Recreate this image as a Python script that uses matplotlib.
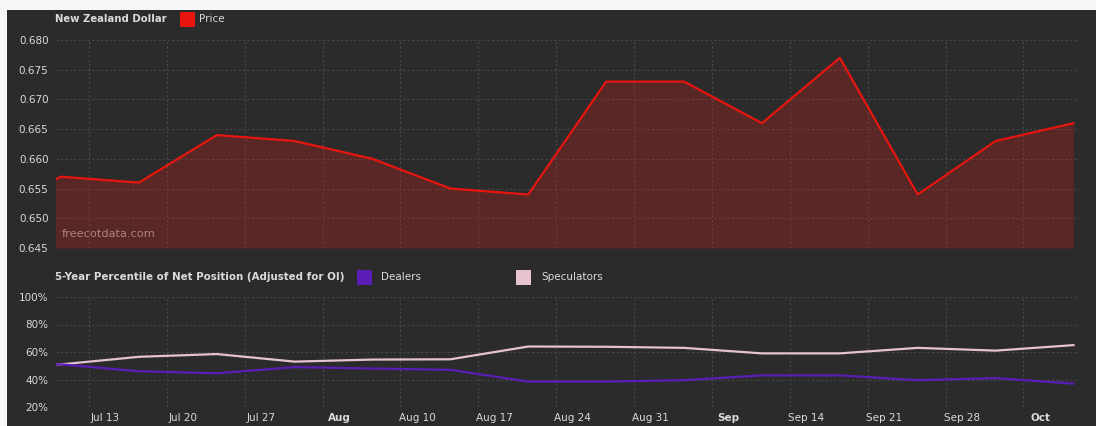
import pandas as pd
import matplotlib
matplotlib.use("Agg")
import matplotlib.pyplot as plt
import matplotlib.dates as mdates
from matplotlib.patches import Rectangle

# weekly data (first point sits just left of the visible window)
dates = pd.date_range("2020-07-02", periods=15, freq="7D")
price = [0.651, 0.657, 0.656, 0.664, 0.663, 0.660, 0.655, 0.654,
         0.673, 0.673, 0.666, 0.677, 0.654, 0.663, 0.666]
dealers = [52, 51, 46, 44.5, 49, 48, 47, 38.5, 38.5, 39.5, 43, 43, 39.5, 41, 37]
speculators = [52, 51, 56.5, 58.5, 53, 54.5, 54.7, 64, 63.8, 63, 59, 59, 63, 61, 65]

tick_dates = pd.date_range("2020-07-13", periods=13, freq="7D")
tick_labels = ["Jul 13", "Jul 20", "Jul 27", "Aug", "Aug 10", "Aug 17", "Aug 24",
               "Aug 31", "Sep", "Sep 14", "Sep 21", "Sep 28", "Oct"]
month_labels = ["Aug", "Sep", "Oct"]

bg = "#2b2b2b"
grid_c = "#474747"
txt = "#dadada"
red = "#e8150f"
purple = "#5a1db5"
pink = "#e6c3cf"

plt.rcParams["font.family"] = "DejaVu Sans"

fig = plt.figure(figsize=(10.96, 4.26), dpi=100, facecolor="#f7f7f7")
fig.patches.append(Rectangle((7 / 1096, 0), 1 - 7 / 1096, 1 - 10 / 426,
                             transform=fig.transFigure, facecolor=bg, zorder=-10))

left = 55.5 / 1096
width = 1023.5 / 1096
ax1 = fig.add_axes([left, (426 - 248) / 426, width, 208 / 426])
ax2 = fig.add_axes([left, (426 - 407) / 426, width, 110 / 426])

x = mdates.date2num(dates)
xmin = mdates.date2num(pd.Timestamp("2020-07-08 12:00"))
xmax = mdates.date2num(pd.Timestamp("2020-10-08 12:00"))
grid_pos = mdates.date2num(tick_dates - pd.Timedelta(hours=36))

for ax in (ax1, ax2):
    ax.set_facecolor(bg)
    for s in ax.spines.values():
        s.set_visible(False)
    ax.set_xlim(xmin, xmax)
    ax.set_xticks(mdates.date2num(tick_dates))
    ax.set_xticks(grid_pos, minor=True)
    ax.grid(True, which="minor", axis="x", color=grid_c, linestyle=(0, (2, 2)), linewidth=0.8)
    ax.grid(True, which="major", axis="y", color=grid_c, linestyle=(0, (2, 2)), linewidth=0.8)
    ax.tick_params(which="both", length=0, colors=txt, labelsize=7.5)
    ax.set_axisbelow(True)

# price panel
ax1.fill_between(x, price, 0.645, color="#ff1a10", alpha=0.22, linewidth=0)
ax1.plot(x, price, color=red, linewidth=1.6)
ax1.set_ylim(0.645, 0.680)
ax1.set_yticks([0.645, 0.650, 0.655, 0.660, 0.665, 0.670, 0.675, 0.680])
ax1.set_yticklabels(["%.3f" % v for v in ax1.get_yticks()])
ax1.tick_params(axis="x", labelbottom=False)
ax1.tick_params(axis="y", pad=5)
ax1.text(0.006, 0.045, "freecotdata.com", transform=ax1.transAxes, color="#f2cccc",
         alpha=0.55, fontsize=8.2, va="bottom", ha="left")

# percentile panel
ax2.plot(x, speculators, color=pink, linewidth=1.6)
ax2.plot(x, dealers, color=purple, linewidth=1.6)
ax2.set_ylim(20, 100)
ax2.set_yticks([20, 40, 60, 80, 100])
ax2.set_yticklabels(["%d%%" % v for v in [20, 40, 60, 80, 100]])
ax2.set_xticklabels(tick_labels)
ax2.tick_params(axis="x", pad=4)
ax2.tick_params(axis="y", pad=5)
for lab in ax2.get_xticklabels():
    if lab.get_text() in month_labels:
        lab.set_fontweight("bold")

# titles and legend swatches
fig.text(55 / 1096, 1 - 19 / 426, "New Zealand Dollar", color=txt, fontsize=7.3,
         fontweight="bold", va="center", ha="left")
fig.patches.append(Rectangle((180 / 1096, 1 - 27 / 426), 15 / 1096, 15 / 426,
                             transform=fig.transFigure, facecolor=red, zorder=2))
fig.text(199 / 1096, 1 - 19 / 426, "Price", color=txt, fontsize=7.5, va="center", ha="left")

fig.text(55 / 1096, 1 - 277 / 426, "5-Year Percentile of Net Position (Adjusted for OI)",
         color=txt, fontsize=7.4, fontweight="bold", va="center", ha="left")
fig.patches.append(Rectangle((357 / 1096, 1 - 285 / 426), 15 / 1096, 15 / 426,
                             transform=fig.transFigure, facecolor=purple, zorder=2))
fig.text(381 / 1096, 1 - 277 / 426, "Dealers", color=txt, fontsize=7.5, va="center", ha="left")
fig.patches.append(Rectangle((516 / 1096, 1 - 285 / 426), 15 / 1096, 15 / 426,
                             transform=fig.transFigure, facecolor=pink, zorder=2))
fig.text(541 / 1096, 1 - 277 / 426, "Speculators", color=txt, fontsize=7.5, va="center", ha="left")

fig.savefig("out.png", dpi=100, facecolor=fig.get_facecolor())
